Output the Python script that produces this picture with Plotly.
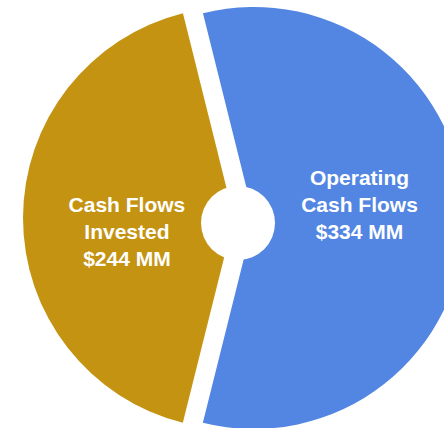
import plotly.graph_objects as go

# ---- data ----
categories = ["Operating Cash Flows", "Cash Flows Invested"]
values = [334, 244]
label_lines = [["Operating", "Cash Flows", "$334 MM"],
               ["Cash Flows", "Invested", "$244 MM"]]
colors = ["#5286E2", "#C49312"]

# ---- layout constants ----
W, H = 480, 456          # figure is larger than the window; the right part is cropped
SHIFT = 10               # figure is shifted up this many px inside the page
PULL = 0.0474
HOLE_CX, HOLE_CY, HOLE_R = 238, 223, 37   # white centre disc (window px)

# the reference places the blue label a little higher and the gold one a little lower
pad = "\u00a0"
slice_text = [
    "<br>".join(label_lines[0] + [pad]),
    "<br>".join([pad] + label_lines[1]),
]

fig = go.Figure(go.Pie(
    labels=categories,
    values=values,
    text=slice_text,
    textinfo="text",
    textposition="inside",
    insidetextorientation="horizontal",
    sort=False,
    direction="clockwise",
    rotation=-14,
    pull=[PULL, PULL],
    marker=dict(colors=colors, line=dict(width=0)),
    textfont=dict(family="Liberation Sans, Arial, sans-serif", size=21,
                  color="white", weight="bold"),
    hoverinfo="skip",
    showlegend=False,
    domain=dict(x=[23 / W, 465 / W], y=[0, 1]),
))

fig.add_shape(
    type="circle", xref="paper", yref="paper",
    x0=(HOLE_CX - HOLE_R) / W, x1=(HOLE_CX + HOLE_R) / W,
    y0=1 - (HOLE_CY + SHIFT + HOLE_R) / H, y1=1 - (HOLE_CY + SHIFT - HOLE_R) / H,
    fillcolor="white", line=dict(width=0), layer="above",
)

fig.update_layout(
    width=W, height=H,
    margin=dict(l=0, r=0, t=0, b=0),
    paper_bgcolor="white", plot_bgcolor="white",
    font=dict(family="Liberation Sans, Arial, sans-serif"),
)

post = (
    "document.documentElement.style.overflow='hidden';"
    "document.body.style.margin='0';"
    "document.body.style.overflow='hidden';"
    "var gd=document.getElementById('{plot_id}');"
    "gd.style.position='relative';"
    "gd.style.top='-%dpx';" % SHIFT
)

fig.write_html("out.html", post_script=post, config={"displayModeBar": False})
